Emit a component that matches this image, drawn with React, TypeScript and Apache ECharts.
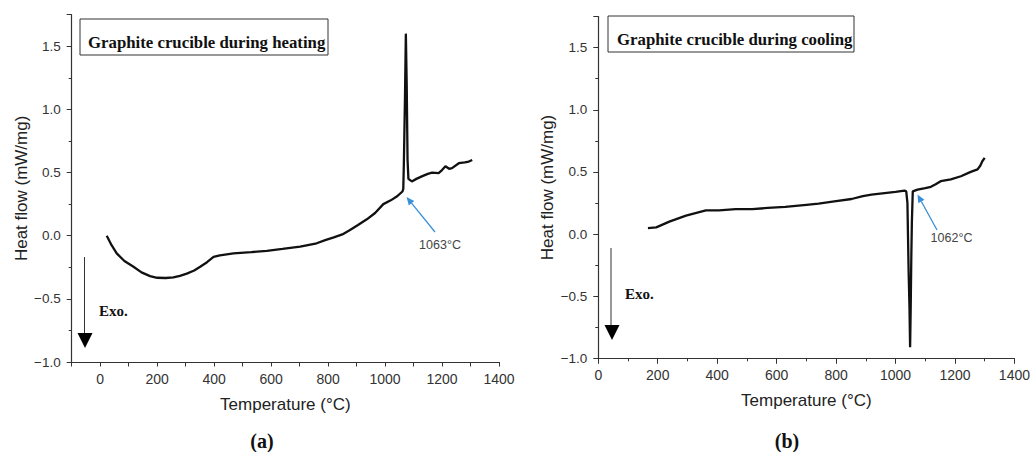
import React, { useEffect, useRef } from "react";
import * as echarts from "echarts";

// ---- Data ----
const tempA = [23, 40, 58, 85, 117, 145, 175, 200, 230, 257, 280, 304, 330, 351, 375, 398, 420, 468, 530, 585, 640, 702, 760, 790, 820, 850, 877, 905, 936, 965, 994, 1020, 1041, 1061, 1064, 1066, 1070, 1073, 1076, 1079, 1082, 1094, 1110, 1129, 1150, 1165, 1188, 1200, 1212, 1225, 1235, 1259, 1280, 1294, 1306];
const heatA = [0.0, -0.075, -0.14, -0.2, -0.246, -0.29, -0.32, -0.333, -0.335, -0.33, -0.318, -0.3, -0.275, -0.246, -0.21, -0.167, -0.155, -0.14, -0.13, -0.12, -0.105, -0.087, -0.06, -0.035, -0.013, 0.01, 0.045, 0.085, 0.13, 0.18, 0.25, 0.28, 0.31, 0.35, 0.37, 0.57, 1.1, 1.6, 1.2, 0.6, 0.45, 0.43, 0.45, 0.47, 0.49, 0.5, 0.495, 0.52, 0.55, 0.53, 0.535, 0.574, 0.58, 0.587, 0.6];

const tempB = [167, 195, 239, 295, 330, 362, 406, 462, 518, 570, 629, 700, 741, 800, 852, 890, 919, 963, 1000, 1030, 1036, 1040, 1044, 1047, 1049, 1051, 1053, 1055, 1058, 1074, 1100, 1119, 1135, 1152, 1186, 1220, 1253, 1276, 1285, 1292, 1300];
const heatB = [0.048, 0.054, 0.1, 0.148, 0.17, 0.19, 0.19, 0.2, 0.2, 0.21, 0.218, 0.235, 0.245, 0.265, 0.282, 0.305, 0.317, 0.33, 0.34, 0.35, 0.344, 0.25, -0.3, -0.6, -0.91, -0.6, -0.2, 0.1, 0.344, 0.357, 0.37, 0.38, 0.4, 0.425, 0.44, 0.465, 0.5, 0.52, 0.55, 0.586, 0.613];

const titleA = "Graphite crucible during heating";
const titleB = "Graphite crucible during cooling";
const noteA = "1063°C";
const noteB = "1062°C";
const xName = "Temperature (°C)";
const yName = "Heat flow (mW/mg)";

const AXIS_COLOR = "#333";
const LABEL_FONT = "'Liberation Sans', Arial, sans-serif";
const SERIF = "'Liberation Serif', 'Times New Roman', serif";
const BLUE = "#3a8fd6";

const W = 1033, H = 452;
const gridA = { left: 71.7, top: 14.7, right: 534, bottom: 90 };
const gridB = { left: 598.3, top: 16.6, right: 15.7, bottom: 93.7 };

function zip(xs: number[], ys: number[]) {
  return xs.map((x, i) => [x, ys[i]]);
}

function fmtY(v: number) {
  if (Math.abs(v * 2 - Math.round(v * 2)) > 1e-6) return "";
  if (v > 1.6) return "";
  return v.toFixed(1).replace("-", "\u2212");
}
function fmtX(v: number) {
  if (v < 0 || v % 200 !== 0) return "";
  return String(v);
}

function arrow(x1: number, y1: number, x2: number, y2: number, color: string, head = 8, w = 3.5) {
  const dx = x2 - x1, dy = y2 - y1;
  const len = Math.sqrt(dx * dx + dy * dy);
  const ux = dx / len, uy = dy / len;
  const bx = x2 - ux * head, by = y2 - uy * head;
  const px = -uy * w, py = ux * w;
  return [
    { type: "line", shape: { x1, y1, x2: bx, y2: by }, style: { stroke: color, lineWidth: 1.3 }, z: 100 },
    { type: "polygon", shape: { points: [[x2, y2], [bx + px, by + py], [bx - px, by - py]] }, style: { fill: color }, z: 100 },
  ];
}

// left panel starts at -100, so ticks every 100 (labels only at multiples of 200);
// right panel starts at 0: major ticks every 200 with one minor tick between.
function xAxisFor(grid: number, min: number, interval: number) {
  return {
    type: "value", gridIndex: grid, position: "bottom", min, max: 1400, interval,
    name: xName, nameLocation: "middle", nameGap: 34,
    nameTextStyle: { fontFamily: LABEL_FONT, fontSize: 17, color: "#222" },
    axisLine: { show: true, onZero: false, lineStyle: { color: AXIS_COLOR, width: 1.2 } },
    axisTick: { show: true, length: interval === 200 ? 5.5 : 4.5, lineStyle: { color: AXIS_COLOR } },
    minorTick: { show: interval === 200, splitNumber: 2, length: 3, lineStyle: { color: AXIS_COLOR } },
    axisLabel: { show: true, formatter: fmtX, margin: 10, fontFamily: LABEL_FONT, fontSize: 14, color: "#333", showMinLabel: true, showMaxLabel: true },
    splitLine: { show: false },
    minorSplitLine: { show: false },
  };
}
function yAxisFor(grid: number) {
  return {
    type: "value", gridIndex: grid, position: "left", min: -1, max: 1.75, interval: 0.5,
    name: yName, nameLocation: "middle", nameGap: 42,
    nameTextStyle: { fontFamily: LABEL_FONT, fontSize: 17, color: "#222" },
    axisLine: { show: true, onZero: false, lineStyle: { color: AXIS_COLOR, width: 1.2 } },
    axisTick: { show: true, length: 5, lineStyle: { color: AXIS_COLOR } },
    minorTick: { show: true, splitNumber: 2, length: 3, lineStyle: { color: AXIS_COLOR } },
    axisLabel: { show: true, formatter: fmtY, margin: 11, fontFamily: LABEL_FONT, fontSize: 13.5, color: "#333" },
    splitLine: { show: false },
    minorSplitLine: { show: false },
  };
}

export default function App() {
  const ref = useRef<HTMLDivElement>(null);
  useEffect(() => {
    document.body.style.margin = "0";
    if (!ref.current) return;
    const chart = echarts.init(ref.current, undefined, { renderer: "svg" });
    const option: any = {
      animation: false,
      backgroundColor: "#fff",
      grid: [gridA, gridB],
      xAxis: [xAxisFor(0, -100, 100), xAxisFor(1, 0, 200)],
      yAxis: [yAxisFor(0), yAxisFor(1)],
      series: [
        {
          type: "line", xAxisIndex: 0, yAxisIndex: 0, data: zip(tempA, heatA),
          showSymbol: false, lineStyle: { color: "#111", width: 2.3 }, z: 5,
        },
        {
          type: "line", xAxisIndex: 1, yAxisIndex: 1, data: zip(tempB, heatB),
          showSymbol: false, lineStyle: { color: "#111", width: 2.3 }, z: 5,
        },
      ],
      graphic: [
        { type: "rect", shape: { x: 80, y: 19, width: 248, height: 36 }, style: { fill: "#fff", stroke: "#333", lineWidth: 1 }, z: 50 },
        { type: "text", x: 88, y: 42, style: { text: titleA, font: `bold 16.8px ${SERIF}`, fill: "#111", verticalAlign: "middle", align: "left" }, z: 51 },
        { type: "rect", shape: { x: 608, y: 16, width: 246, height: 36 }, style: { fill: "#fff", stroke: "#333", lineWidth: 1 }, z: 50 },
        { type: "text", x: 617, y: 39.5, style: { text: titleB, font: `bold 16.8px ${SERIF}`, fill: "#111", verticalAlign: "middle", align: "left" }, z: 51 },

        { type: "line", shape: { x1: 84.5, y1: 257, x2: 84.5, y2: 335 }, style: { stroke: "#333", lineWidth: 1 } },
        { type: "polygon", shape: { points: [[77.5, 333], [92.5, 333], [85, 348]] }, style: { fill: "#000" } },
        { type: "text", x: 99, y: 311, style: { text: "Exo.", font: `bold 15px ${SERIF}`, fill: "#111", verticalAlign: "middle", align: "left" } },

        { type: "line", shape: { x1: 611, y1: 248, x2: 611, y2: 327 }, style: { stroke: "#333", lineWidth: 1 } },
        { type: "polygon", shape: { points: [[604.5, 325], [619.5, 325], [612, 340]] }, style: { fill: "#000" } },
        { type: "text", x: 625, y: 293.5, style: { text: "Exo.", font: `bold 15px ${SERIF}`, fill: "#111", verticalAlign: "middle", align: "left" } },

        ...arrow(435, 232, 406.5, 197, BLUE),
        { type: "text", x: 440, y: 245, style: { text: noteA, font: `12.5px ${LABEL_FONT}`, fill: "#444", verticalAlign: "middle", align: "center" } },
        ...arrow(937, 230, 917.5, 194.5, BLUE),
        { type: "text", x: 951.5, y: 238, style: { text: noteB, font: `12.5px ${LABEL_FONT}`, fill: "#444", verticalAlign: "middle", align: "center" } },

        { type: "text", x: 262, y: 441, style: { text: "(a)", font: `bold 20px ${SERIF}`, fill: "#111", verticalAlign: "middle", align: "center" } },
        { type: "text", x: 787, y: 441, style: { text: "(b)", font: `bold 20px ${SERIF}`, fill: "#111", verticalAlign: "middle", align: "center" } },
      ],
    };
    chart.setOption(option);
    return () => chart.dispose();
  }, []);
  return <div ref={ref} style={{ width: W, height: H }} />;
}
